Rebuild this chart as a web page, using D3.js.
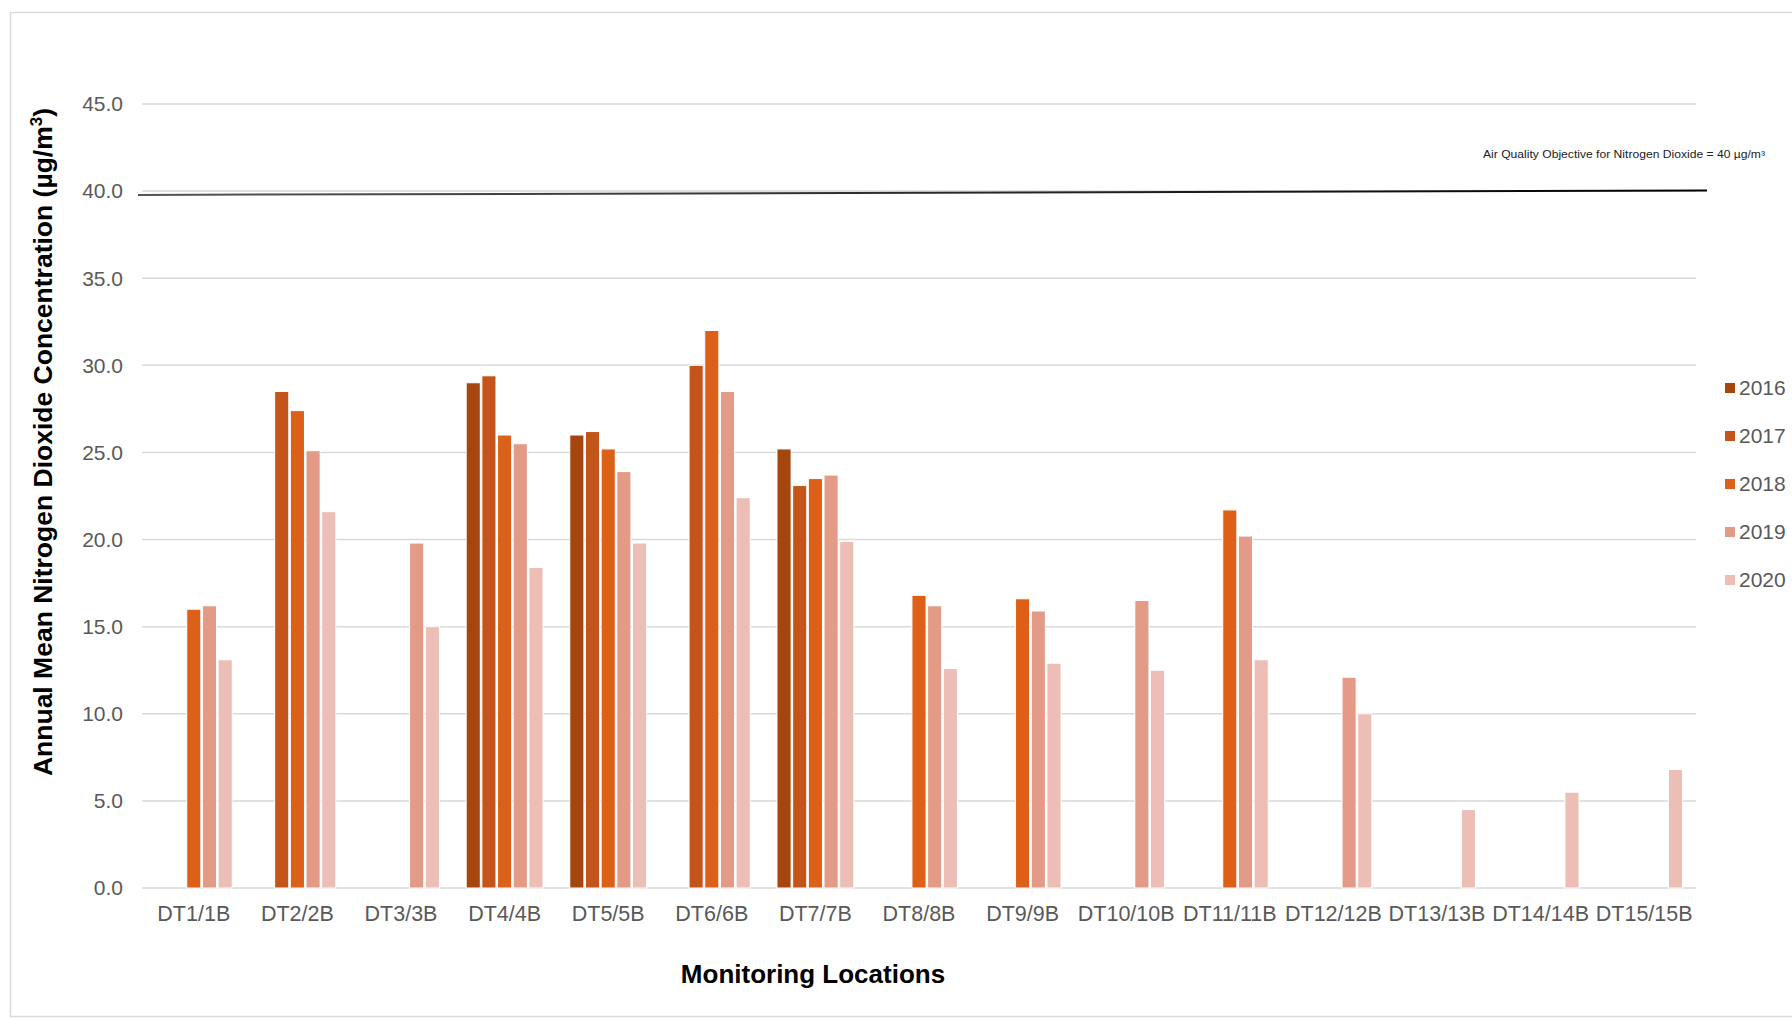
<!DOCTYPE html>
<html>
<head>
<meta charset="utf-8">
<script src="https://cdn.jsdelivr.net/npm/d3@7"></script>
<style>
  html, body { margin: 0; padding: 0; background: #fff; }
  svg { display: block; font-family: "Liberation Sans", Arial, sans-serif; }
</style>
</head>
<body>
<svg id="chart" width="1792" height="1021"></svg>
<script>
const categories = ["DT1/1B","DT2/2B","DT3/3B","DT4/4B","DT5/5B","DT6/6B","DT7/7B","DT8/8B","DT9/9B","DT10/10B","DT11/11B","DT12/12B","DT13/13B","DT14/14B","DT15/15B"];
const years = ["2016","2017","2018","2019","2020"];
const values2016 = [null, null, null, 29.0, 26.0, null, 25.2, null, null, null, null, null, null, null, null];
const values2017 = [null, 28.5, null, 29.4, 26.2, 30.0, 23.1, null, null, null, null, null, null, null, null];
const values2018 = [16.0, 27.4, null, 26.0, 25.2, 32.0, 23.5, 16.8, 16.6, null, 21.7, null, null, null, null];
const values2019 = [16.2, 25.1, 19.8, 25.5, 23.9, 28.5, 23.7, 16.2, 15.9, 16.5, 20.2, 12.1, null, null, null];
const values2020 = [13.1, 21.6, 15.0, 18.4, 19.8, 22.4, 19.9, 12.6, 12.9, 12.5, 13.1, 10.0, 4.5, 5.5, 6.8];
const yTicks = [0, 5, 10, 15, 20, 25, 30, 35, 40, 45];
const objectiveValue = 40;
const objectiveLabel = "Air Quality Objective  for Nitrogen Dioxide = 40 µg/m³";
const yAxisTitle = "Annual Mean Nitrogen Dioxide Concentration (µg/m";
const xAxisTitle = "Monitoring Locations";

(function () {
const seriesByYear = {"2016": values2016, "2017": values2017, "2018": values2018, "2019": values2019, "2020": values2020};
const colors = {"2016": "#a5460f", "2017": "#c4541a", "2018": "#dc6017", "2019": "#e39a87", "2020": "#ecbeb5"};

const svg = d3.select("#chart");

// outer border
svg.append("rect").attr("x", 10.5).attr("y", 12.5).attr("width", 1800).attr("height", 1004)
  .attr("fill", "none").attr("stroke", "#d9d9d9").attr("stroke-width", 1.5);

const plotLeft = 142, plotRight = 1696, plotTop = 104, plotBottom = 888;

const y = d3.scaleLinear().domain([0, 45]).range([plotBottom, plotTop]);
const x0 = d3.scaleBand().domain(categories).range([plotLeft, plotRight]).paddingInner(0.228).paddingOuter(0.114);
const x1 = d3.scaleBand().domain(years).range([0, x0.bandwidth()]).padding(0.1);

// gridlines
svg.append("g").selectAll("line").data(yTicks).join("line")
  .attr("x1", plotLeft).attr("x2", plotRight)
  .attr("y1", d => y(d)).attr("y2", d => y(d))
  .attr("stroke", "#d9d9d9").attr("stroke-width", 1.5);

// y tick labels
svg.append("g").selectAll("text").data(yTicks).join("text")
  .attr("x", 123).attr("y", d => y(d)).attr("dy", "0.35em")
  .attr("text-anchor", "end").attr("fill", "#595959").attr("font-size", 21)
  .text(d => d3.format(".1f")(d));

// bars
const flat = [];
categories.forEach((c, i) => {
  years.forEach(yr => {
    const v = seriesByYear[yr][i];
    if (v != null) flat.push({cat: c, year: yr, value: v});
  });
});
svg.append("g").selectAll("rect").data(flat).join("rect")
  .attr("x", d => x0(d.cat) + x1(d.year))
  .attr("width", x1.bandwidth())
  .attr("y", d => y(d.value))
  .attr("height", d => y(0) - y(d.value))
  .attr("fill", d => colors[d.year])
  .attr("stroke", "#fff").attr("stroke-width", 1);

// x tick labels
svg.append("g").selectAll("text").data(categories).join("text")
  .attr("x", d => x0(d) + x0.bandwidth() / 2).attr("y", 921)
  .attr("text-anchor", "middle").attr("fill", "#595959").attr("font-size", 21.5)
  .text(d => d);

// objective line (slightly tilted, as in the original drawing)
const grad = svg.append("defs").append("linearGradient").attr("id", "objGrad")
  .attr("x1", "0%").attr("x2", "100%");
grad.append("stop").attr("offset", "0%").attr("stop-color", "#555");
grad.append("stop").attr("offset", "100%").attr("stop-color", "#000");
svg.append("line")
  .attr("x1", 138).attr("x2", 1707)
  .attr("y1", y(objectiveValue - 0.22)).attr("y2", y(objectiveValue + 0.03))
  .attr("stroke", "url(#objGrad)").attr("stroke-width", 2);

svg.append("text").attr("x", 1483).attr("y", 158)
  .attr("font-size", 10).attr("fill", "#222")
  .attr("textLength", 282).attr("lengthAdjust", "spacingAndGlyphs")
  .text(objectiveLabel);

// y axis title
const yt = svg.append("text")
  .attr("transform", "translate(52,442) rotate(-90)")
  .attr("text-anchor", "middle").attr("font-size", 26.5).attr("font-weight", "bold").attr("fill", "#000");
yt.append("tspan").text(yAxisTitle);
yt.append("tspan").attr("dy", -10).attr("font-size", 17).text("3");
yt.append("tspan").attr("dy", 10).text(")");

// x axis title
svg.append("text").attr("x", 813).attr("y", 983)
  .attr("text-anchor", "middle").attr("font-size", 26).attr("font-weight", "bold").attr("fill", "#000")
  .text(xAxisTitle);

// legend
const lg = svg.append("g").selectAll("g").data(years).join("g")
  .attr("transform", (d, i) => `translate(1725, ${388 + i * 48})`);
lg.append("rect").attr("x", 0).attr("y", -5).attr("width", 10).attr("height", 10)
  .attr("fill", d => colors[d]);
lg.append("text").attr("x", 14).attr("y", 0).attr("dy", "0.35em")
  .attr("font-size", 21).attr("fill", "#595959").text(d => d);
})();
</script>
</body>
</html>
